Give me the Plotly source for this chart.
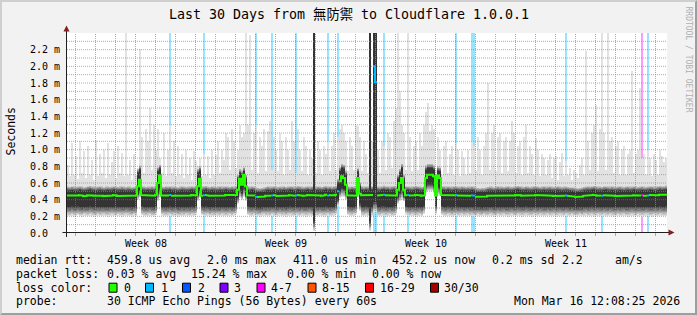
import plotly.graph_objects as go
from datetime import datetime, timedelta

# ---------------- data ----------------
TITLE = "Last 30 Days from 無防禦 to Cloudflare 1.0.0.1"
T_START = datetime(2026, 2, 14, 13, 48)
T_END = datetime(2026, 3, 16, 13, 48)
N_STEPS = 300

median_us = [
    450, 446, 452, 448, 444, 450, 455, 448, 442, 446, 452, 458, 450, 447, 444, 449, 453, 447, 443, 448,
    451, 446, 449, 455, 450, 445, 447, 452, 448, 444, 450, 447, 443, 446, 450, 560, 640, 455, 449, 446,
    451, 448, 452, 447, 460, 600, 690, 450, 446, 452, 449, 455, 447, 450, 446, 443, 448, 452, 449, 445,
    447, 451, 455, 449, 452, 560, 650, 448, 452, 457, 450, 446, 452, 449, 445, 448, 453, 447, 450, 455,
    449, 446, 452, 448, 455, 520, 650, 580, 700, 560, 452, 448, 455, 450, 436, 432, 430, 434, 438, 446,
    452, 448, 450, 455, 447, 444, 450, 448, 452, 446, 449, 455, 452, 447, 450, 456, 452, 448, 445, 451,
    455, 448, 452, 450, 447, 453, 449, 445, 452, 458, 450, 454, 448, 452, 458, 500, 620, 680, 660, 580,
    452, 448, 455, 450, 447, 660, 470, 452, 448, 455, 450, 452, 455, 2000, 1810, 450, 447, 455, 460, 452,
    455, 448, 452, 457, 450, 520, 600, 660, 520, 452, 455, 450, 447, 452, 458, 455, 450, 446, 452, 660,
    700, 700, 700, 680, 450, 690, 660, 455, 452, 448, 455, 450, 447, 452, 455, 450, 447, 452, 449, 445,
    450, 448, 452, 447, 436, 432, 430, 434, 432, 438, 446, 450, 447, 443, 448, 452, 447, 450, 445, 449,
    452, 448, 445, 451, 455, 458, 452, 448, 446, 453, 450, 445, 448, 452, 455, 450, 446, 448, 452, 447,
    450, 453, 448, 445, 449, 452, 448, 444, 447, 450, 446, 443, 440, 437, 432, 430, 434, 438, 446, 450,
    453, 449, 455, 458, 452, 448, 450, 446, 452, 455, 450, 447, 452, 448, 445, 450, 453, 448, 444, 449,
    452, 447, 450, 454, 448, 445, 450, 452, 448, 446, 450, 455, 452, 447, 449, 453, 458, 452, 455, 460,
]

smoke_min_us = [
    205, 200, 210, 198, 205, 212, 200, 195, 208, 203, 200, 210, 205, 198, 202, 208, 200, 205, 210, 200,
    198, 205, 210, 202, 200, 208, 205, 198, 203, 210, 205, 200, 198, 208, 205, 400, 420, 215, 205, 200,
    205, 210, 200, 198, 220, 380, 420, 210, 205, 200, 203, 208, 200, 205, 210, 198, 202, 205, 200, 208,
    205, 200, 210, 203, 220, 380, 420, 215, 200, 205, 210, 198, 205, 200, 208, 203, 200, 210, 205, 200,
    205, 210, 200, 208, 230, 350, 420, 400, 430, 380, 215, 205, 200, 208, 203, 200, 198, 205, 210, 200,
    205, 200, 210, 203, 198, 205, 210, 200, 205, 198, 203, 210, 205, 200, 208, 205, 200, 210, 203, 198,
    205, 210, 200, 20, 205, 200, 210, 203, 198, 205, 210, 200, 205, 208, 230, 320, 420, 430, 430, 400,
    215, 205, 200, 210, 230, 420, 260, 205, 200, 210, 205, 20, 205, 250, 250, 205, 200, 210, 203, 198,
    205, 210, 200, 205, 230, 350, 380, 400, 380, 220, 205, 200, 210, 203, 198, 205, 210, 200, 230, 480,
    500, 500, 500, 480, 230, 450, 440, 215, 205, 200, 210, 203, 198, 205, 210, 200, 205, 208, 200, 205,
    210, 200, 205, 198, 203, 210, 205, 200, 208, 203, 200, 210, 205, 198, 202, 208, 200, 205, 210, 200,
    198, 205, 210, 202, 200, 208, 205, 198, 203, 210, 205, 200, 198, 208, 205, 200, 210, 205, 200, 203,
    208, 200, 205, 210, 198, 203, 210, 205, 200, 208, 205, 200, 210, 203, 198, 205, 210, 200, 205, 208,
    200, 205, 210, 198, 203, 210, 205, 200, 208, 203, 200, 210, 205, 198, 202, 208, 200, 205, 210, 200,
    198, 205, 210, 202, 200, 208, 205, 198, 203, 210, 205, 200, 198, 208, 205, 200, 210, 205, 200, 203,
]

smoke_core_top_us = [
    510, 505, 512, 508, 505, 510, 515, 508, 502, 506, 512, 518, 510, 507, 504, 509, 513, 507, 503, 508,
    511, 506, 509, 515, 510, 505, 507, 512, 508, 504, 510, 507, 503, 506, 510, 720, 760, 515, 509, 506,
    511, 508, 512, 507, 520, 740, 770, 510, 506, 512, 509, 515, 507, 510, 506, 503, 508, 512, 509, 505,
    507, 511, 515, 509, 512, 720, 750, 508, 512, 517, 510, 506, 512, 509, 505, 508, 513, 507, 510, 515,
    509, 506, 512, 508, 515, 650, 720, 700, 740, 650, 512, 508, 515, 510, 496, 492, 490, 494, 498, 506,
    512, 508, 510, 515, 507, 504, 510, 508, 512, 506, 509, 515, 512, 507, 510, 516, 512, 508, 505, 511,
    515, 508, 512, 2500, 507, 513, 509, 505, 512, 518, 510, 514, 508, 512, 518, 600, 740, 780, 770, 700,
    512, 508, 515, 510, 507, 730, 560, 512, 508, 515, 510, 2500, 515, 2500, 2500, 510, 507, 515, 520, 512,
    515, 508, 512, 517, 510, 650, 720, 780, 650, 512, 515, 510, 507, 512, 518, 515, 510, 506, 512, 760,
    780, 780, 780, 760, 510, 750, 740, 515, 512, 508, 515, 510, 507, 512, 515, 510, 507, 512, 509, 505,
    510, 508, 512, 507, 496, 492, 490, 494, 492, 498, 506, 510, 507, 503, 508, 512, 507, 510, 505, 509,
    512, 508, 505, 511, 515, 518, 512, 508, 506, 513, 510, 505, 508, 512, 515, 510, 506, 508, 512, 507,
    510, 513, 508, 505, 509, 512, 508, 504, 507, 510, 506, 503, 500, 497, 492, 490, 494, 498, 506, 510,
    513, 509, 515, 518, 512, 508, 510, 506, 512, 515, 510, 507, 512, 508, 505, 510, 513, 508, 504, 509,
    512, 507, 510, 514, 508, 505, 510, 512, 508, 506, 510, 515, 512, 507, 509, 513, 518, 512, 515, 520,
]

smoke_max_us = [
    820, 680, 1080, 700, 930, 650, 1100, 720, 980, 660, 1040, 700, 880, 640, 1120, 690, 950, 720, 1000, 660,
    1080, 700, 850, 990, 660, 1050, 720, 960, 680, 2400, 700, 880, 640, 950, 700, 780, 2210, 1150, 720, 1250,
    1100, 1500, 760, 1300, 1000, 1250, 900, 720, 1200, 680, 1000, 1300, 720, 1100, 680, 1050, 700, 950, 660, 1000,
    700, 900, 640, 980, 860, 800, 900, 680, 950, 700, 920, 660, 1000, 700, 940, 1100, 720, 1000, 880, 1200,
    1150, 760, 1250, 1100, 780, 1000, 1300, 1150, 1200, 2400, 1300, 2380, 760, 1200, 1300, 720, 1150, 1050, 1250, 740,
    1220, 1350, 760, 1150, 1000, 740, 1200, 1100, 700, 1150, 1000, 760, 1340, 1100, 720, 1250, 1000, 740, 1150, 1050,
    700, 1000, 900, 2500, 720, 1100, 1000, 700, 1050, 950, 1100, 740, 1050, 1200, 760, 1150, 1250, 1300, 1200, 1100,
    740, 1150, 1050, 760, 1300, 1280, 1150, 740, 1100, 950, 720, 2500, 1100, 2500, 2500, 1000, 720, 1100, 1050, 760,
    1200, 1150, 780, 1350, 1500, 2400, 1700, 1300, 1200, 760, 2400, 1150, 740, 1050, 1100, 760, 1200, 1050, 1300, 1450,
    1560, 1220, 1300, 1250, 760, 1150, 1000, 700, 1050, 1100, 720, 950, 1050, 700, 1080, 1000, 680, 980, 900, 700,
    1000, 720, 1100, 1050, 740, 1150, 1000, 700, 1050, 1200, 1800, 760, 1200, 1300, 740, 1150, 1200, 720, 1100, 1150,
    740, 1100, 1340, 1200, 720, 1050, 1100, 700, 1150, 1300, 720, 1050, 950, 700, 1140, 1000, 680, 950, 900, 700,
    880, 950, 660, 900, 920, 640, 850, 960, 680, 860, 700, 780, 640, 760, 720, 660, 820, 900, 700, 2180,
    1100, 760, 1200, 1300, 1540, 740, 1250, 2400, 1200, 760, 2400, 1100, 1150, 720, 1050, 1100, 700, 1000, 1050, 700,
    950, 1000, 1940, 720, 950, 1000, 1740, 900, 950, 700, 1000, 900, 680, 950, 880, 700, 1000, 920, 850, 900,
]

loss_step = [51, 68, 94, 102, 114, 130, 135, 153, 154, 158, 170, 194, 202, 203, 249, 267, 287, 290]
loss_count = [1, 1, 1, 1, 1, 1, 1, 1, 1, 1, 1, 1, 1, 1, 1, 1, 5, 1]

loss_labels = ["0", "1", "2", "3", "4-7", "8-15", "16-29", "30/30"]
loss_upper = [0, 1, 2, 3, 7, 15, 29, 30]
loss_colors = ["#26ff00", "#00b8ff", "#0059ff", "#7e00ff", "#ff00ff", "#ff5500", "#ff0000", "#a10000"]

ytick_ms = [0.0, 0.2, 0.4, 0.6, 0.8, 1.0, 1.2, 1.4, 1.6, 1.8, 2.0, 2.2]
ytick_text = ["0.0\u00a0\u00a0", "0.2 m", "0.4 m", "0.6 m", "0.8 m", "1.0 m", "1.2 m",
              "1.4 m", "1.6 m", "1.8 m", "2.0 m", "2.2 m"]
week_label_times = [datetime(2026, 2, 18, 12), datetime(2026, 2, 25, 12),
                    datetime(2026, 3, 4, 12), datetime(2026, 3, 11, 12)]
week_labels = ["Week 08", "Week 09", "Week 10", "Week 11"]

rtt_stats = ["459.8 us avg", "2.0 ms max", "411.0 us min", "452.2 us now", "0.2 ms sd", "2.2", "am/s"]
loss_stats = ["0.03 % avg", "15.24 % max", "0.00 % min", "0.00 % now"]
probe_text = "30 ICMP Echo Pings (56 Bytes) every 60s"
stamp_text = "Mon Mar 16 12:08:25 2026"
y_label = "Seconds"
watermark = "RRDTOOL / TOBI OETIKER"

# ---------------- layout / style ----------------
W, H = 697, 315
ML, MR, MT, MB = 67, 30, 33, 82
PW, PH = W - ML - MR, H - MT - MB
Y_MAX = 2.4
MONO = "DejaVu Sans Mono, Noto Sans CJK TC, monospace"
BG = "#f2f2f2"
GRID = "rgba(143,143,143,0.75)"
MGRID = "rgba(222,79,79,0.6)"
AXIS = "#1f1f1f"
ARROW = "#801f1f"


def px(x):
    return (x - ML) / PW


def py(y):
    return (H - MB - y) / PH


STEP = (T_END - T_START) / N_STEPS
STEP_MS = STEP.total_seconds() * 1000
t_left = [T_START + STEP * i for i in range(N_STEPS + 1)]
t_mid = [T_START + STEP * (i + 0.5) for i in range(N_STEPS)]

md = [v / 1000 for v in median_us]
mn = [v / 1000 for v in smoke_min_us]
ct = [v / 1000 for v in smoke_core_top_us]
mx = [v / 1000 for v in smoke_max_us]


def bucket(n):
    for k, up in enumerate(loss_upper):
        if n <= up:
            return k
    return len(loss_upper) - 1


step_bucket = [0] * N_STEPS
for s, n in zip(loss_step, loss_count):
    step_bucket[s] = bucket(n)


def pale(hexc, a):
    # loss colour blended onto the white canvas
    h = hexc.lstrip("#")
    rgb = [int(h[k:k + 2], 16) for k in (0, 2, 4)]
    return "rgb(%d,%d,%d)" % tuple(round(255 - (255 - c) * a) for c in rgb)


fig = go.Figure()
shapes = []

# loss bars: full-height bars drawn first, so the smoke bars cover them
fig.add_trace(go.Bar(
    x=[t_mid[s] for s in loss_step],
    y=[Y_MAX for _ in loss_step],
    base=[0 for _ in loss_step],
    width=STEP_MS,
    marker=dict(color=[pale(loss_colors[bucket(n)], 0.4) for n in loss_count], line=dict(width=0)),
    hoverinfo="skip", showlegend=False))

# smoke
J = 7
for j in range(J + 1):
    lo, hi = [], []
    for i in range(N_STEPS):
        if j == 0:
            a, b = mn[i], mx[i]
        else:
            t = j / J
            cb = mn[i] + min(0.45 * (md[i] - mn[i]), 0.12)
            U = min(mx[i], ct[i] + 0.06)
            a = mn[i] + (cb - mn[i]) * t
            b = U + (ct[i] - U) * t
        lo.append(a)
        hi.append(max(b, a) - a)
    g = round(226 - (226 - 52) * j / J)
    fig.add_trace(go.Bar(
        x=t_mid, y=hi, base=lo, width=STEP_MS,
        marker=dict(color="rgb(%d,%d,%d)" % (g, g, g), line=dict(width=0)),
        hoverinfo="skip", showlegend=False))

# median line coloured by loss
for k, col in enumerate(loss_colors):
    xs, ys = [], []
    for i in range(N_STEPS):
        if step_bucket[i] == k:
            xs += [t_left[i], t_left[i + 1]]
            ys += [md[i], md[i]]
        elif xs and xs[-1] is not None:
            xs.append(None)
            ys.append(None)
    if any(v is not None for v in ys):
        fig.add_trace(go.Scatter(x=xs, y=ys, mode="lines", line=dict(color=col, width=2),
                                 connectgaps=False, hoverinfo="skip", showlegend=False))

# grid on top
for k in range(1, 24):
    v = k / 10
    shapes.append(dict(type="line", xref="paper", yref="y", x0=0, x1=1, y0=v, y1=v, layer="above",
                       line=dict(color=MGRID if k % 2 == 0 else GRID, width=1, dash="1px,1px")))
d = datetime(2026, 2, 15)
while d < T_END:
    if d > T_START:
        c = MGRID if d.weekday() == 6 else GRID
        shapes.append(dict(type="line", xref="x", yref="paper", x0=d, x1=d, y0=0, y1=1, layer="above",
                           line=dict(color=c, width=1, dash="1px,1px")))
        shapes.append(dict(type="line", xref="x", yref="paper", x0=d, x1=d, y0=py(233), y1=py(236),
                           layer="above", line=dict(color=c, width=1)))
    d += timedelta(days=1)

# axes + arrows
shapes.append(dict(type="line", xref="paper", yref="paper", x0=px(66.5), x1=px(66.5), y0=py(237), y1=py(31),
                   line=dict(color=AXIS, width=1), layer="above"))
shapes.append(dict(type="line", xref="paper", yref="paper", x0=px(62.5), x1=px(669), y0=py(232.5), y1=py(232.5),
                   line=dict(color=AXIS, width=1), layer="above"))
shapes.append(dict(type="path", xref="paper", yref="paper", layer="above",
                   path="M %f %f L %f %f L %f %f Z" % (px(63.5), py(31.5), px(69.5), py(31.5), px(66.5), py(25.5)),
                   fillcolor=ARROW, line=dict(color=ARROW, width=0)))
shapes.append(dict(type="path", xref="paper", yref="paper", layer="above",
                   path="M %f %f L %f %f L %f %f Z" % (px(668.5), py(229.5), px(668.5), py(235.5), px(674.5), py(232.5)),
                   fillcolor=ARROW, line=dict(color=ARROW, width=0)))

# 3d border
shapes.append(dict(type="path", xref="paper", yref="paper", layer="above", line=dict(width=0), fillcolor="#cfcfcf",
                   path="M %f %f L %f %f L %f %f L %f %f L %f %f L %f %f Z" % (
                       px(0), py(315), px(2), py(313), px(2), py(2), px(695), py(2), px(697), py(0), px(0), py(0))))
shapes.append(dict(type="path", xref="paper", yref="paper", layer="above", line=dict(width=0), fillcolor="#9e9e9e",
                   path="M %f %f L %f %f L %f %f L %f %f L %f %f L %f %f Z" % (
                       px(2), py(313), px(695), py(313), px(695), py(2), px(697), py(0), px(697), py(315), px(0), py(315))))

ann = []


def text(x, y, s, size=11.5, anchor="left", color="#000000", angle=0, xref="paper", yref="paper"):
    ann.append(dict(x=x, y=y, xref=xref, yref=yref, text=s, showarrow=False, xanchor=anchor,
                    yanchor="middle", textangle=angle, borderpad=0, borderwidth=0,
                    font=dict(family=MONO, size=size, color=color)))


text(px(348.5), py(15), TITLE, size=13.3, anchor="center")
text(px(10.5), py(132), y_label, size=11.5, anchor="center", angle=-90)
text(px(688.5), py(59), watermark, size=8, anchor="center", color="#b0b0b0", angle=90)
for v, s in zip(ytick_ms, ytick_text):
    text(px(60), v, s, size=10, anchor="right", yref="y")
for t, s in zip(week_label_times, week_labels):
    text(t, py(243), s, size=10, anchor="center", xref="x")

ROW_Y = [259.7, 273.5, 287.7, 301.2]
LEFT_X = 16.4
text(px(LEFT_X), py(ROW_Y[0]), "median rtt:")
for x, s in zip([106.7, 206.7, 293.3, 392.4, 492.4, 562, 614.7], rtt_stats):
    text(px(x), py(ROW_Y[0]), s)
text(px(LEFT_X), py(ROW_Y[1]), "packet loss:")
for x, s in zip([106.7, 191, 286.7, 372.4], loss_stats):
    text(px(x), py(ROW_Y[1]), s)
text(px(LEFT_X), py(ROW_Y[2]), "loss color:")
box_x = [109, 145.5, 182.5, 220, 257, 308, 365.5, 430.5]
lab_x = [123.6, 160.9, 197.8, 234.2, 271.1, 321.8, 380, 444.4]
for bx, lx, col, lab in zip(box_x, lab_x, loss_colors, loss_labels):
    shapes.append(dict(type="rect", xref="paper", yref="paper", layer="above",
                       x0=px(bx), x1=px(bx + 8), y0=py(ROW_Y[2] + 4.5), y1=py(ROW_Y[2] - 4.5),
                       fillcolor=col, line=dict(color="#000000", width=1)))
    text(px(lx), py(ROW_Y[2]), lab)
text(px(LEFT_X), py(ROW_Y[3]), "probe:")
text(px(106.7), py(ROW_Y[3]), probe_text)
text(px(680), py(ROW_Y[3]), stamp_text, anchor="right")

fig.update_layout(
    width=W, height=H, autosize=False,
    margin=dict(l=ML, r=MR, t=MT, b=MB, pad=0),
    paper_bgcolor=BG, plot_bgcolor="#ffffff",
    barmode="overlay", bargap=0, showlegend=False,
    shapes=shapes, annotations=ann,
    xaxis=dict(type="date", range=[T_START, T_END], showgrid=False, zeroline=False,
               showticklabels=False, showline=False, ticks="", fixedrange=True),
    yaxis=dict(range=[0, Y_MAX], showgrid=False, zeroline=False, showticklabels=False,
               showline=False, ticks="", fixedrange=True),
)

fig.write_html("out.html", config={"displayModeBar": False, "staticPlot": True},
               post_script="document.body.style.margin='0';document.body.style.padding='0';")
